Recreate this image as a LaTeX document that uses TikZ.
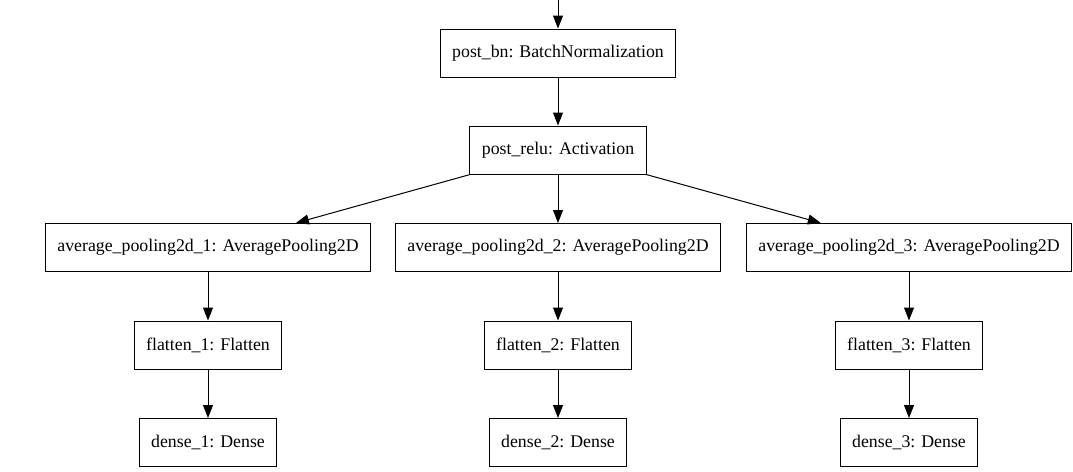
\documentclass[tikz,border=0pt]{standalone}
\usepackage{fontspec}
\setmainfont{Liberation Serif}
\usetikzlibrary{arrows.meta}

\tikzset{
    layer/.style={draw, line width=1pt, rectangle, minimum height=48pt, inner xsep=12pt, font=\fontsize{17.8}{20}\selectfont},
    edge/.style={line width=1pt, -{Triangle[length=13pt,width=10pt]}}
}

\begin{document}
\begin{tikzpicture}[x=1pt,y=-1pt]
    \useasboundingbox (0,0) rectangle (1073,471);
    \coordinate (top) at (558,0);
    \node[layer] (postbn) at (558,53) {post\_bn: BatchNormalization};
    \node[layer] (postrelu) at (558,150) {post\_relu: Activation};
    \node[layer] (avgA) at (208,247.5) {average\_pooling2d\_1: AveragePooling2D};
    \node[layer] (avgB) at (558,247.5) {average\_pooling2d\_2: AveragePooling2D};
    \node[layer] (avgC) at (909,247.5) {average\_pooling2d\_3: AveragePooling2D};
    \node[layer] (flatA) at (208,345) {flatten\_1: Flatten};
    \node[layer] (flatB) at (558,345) {flatten\_2: Flatten};
    \node[layer] (flatC) at (909,345) {flatten\_3: Flatten};
    \node[layer] (denseA) at (208,442.5) {dense\_1: Dense};
    \node[layer] (denseB) at (558,442.5) {dense\_2: Dense};
    \node[layer] (denseC) at (909,442.5) {dense\_3: Dense};
    \draw[edge] (top) -- (postbn);
    \draw[edge] (postbn) -- (postrelu);
    \draw[edge] (postrelu) -- (avgA);
    \draw[edge] (postrelu) -- (avgB);
    \draw[edge] (postrelu) -- (avgC);
    \draw[edge] (avgA) -- (flatA);
    \draw[edge] (avgB) -- (flatB);
    \draw[edge] (avgC) -- (flatC);
    \draw[edge] (flatA) -- (denseA);
    \draw[edge] (flatB) -- (denseB);
    \draw[edge] (flatC) -- (denseC);
\end{tikzpicture}
\end{document}
